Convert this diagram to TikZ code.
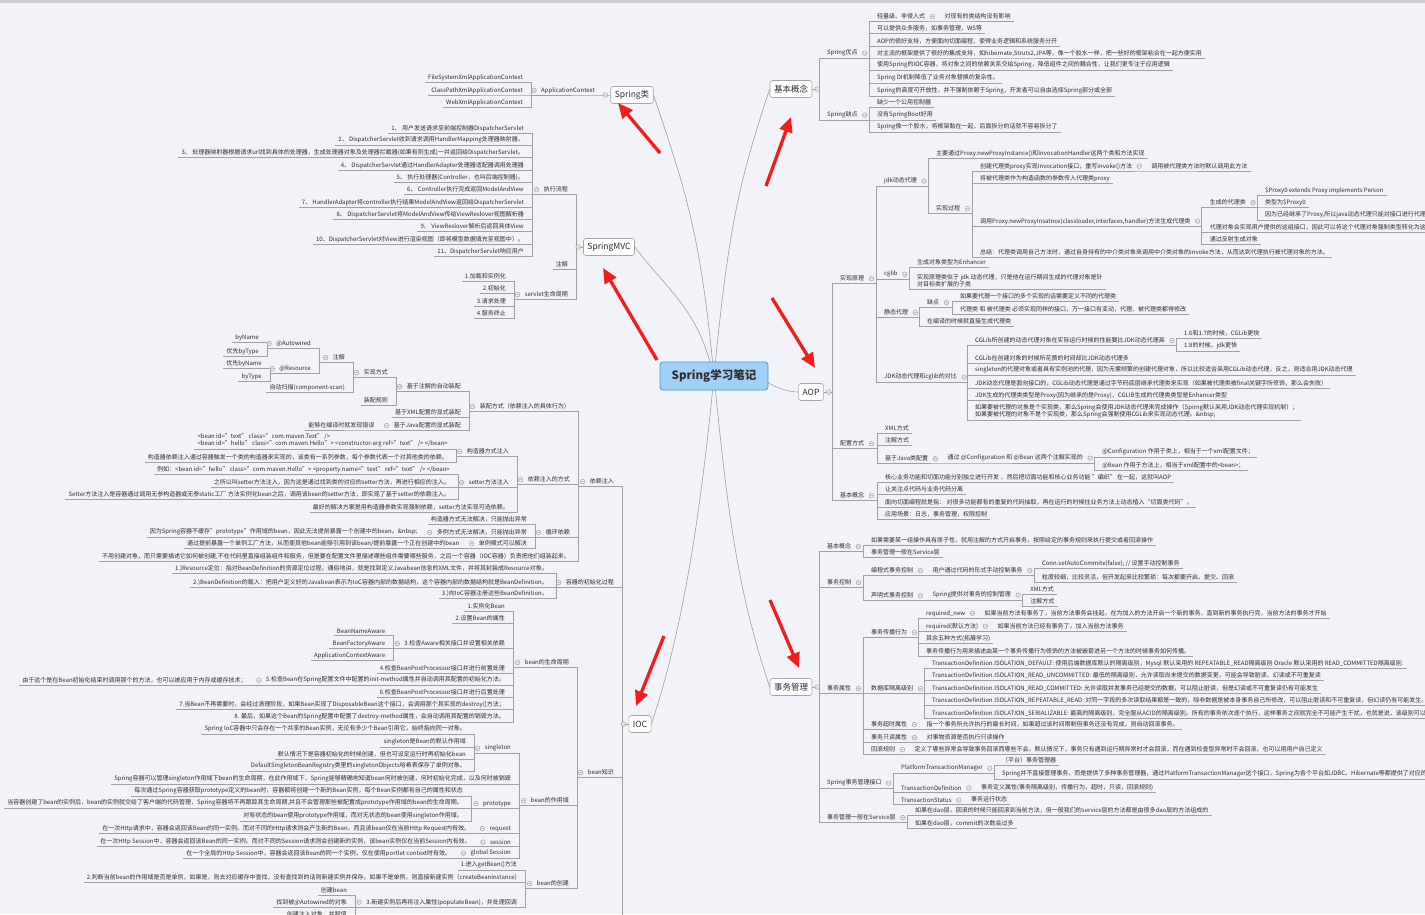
\documentclass[tikz,border=0pt]{standalone}
\usepackage{fontspec}
\setmainfont{Noto Sans CJK SC}
\usetikzlibrary{arrows.meta}
\pgfdeclarelayer{back}
\pgfsetlayers{back,main}
\definecolor{bgc}{RGB}{242,243,248}
\definecolor{topc}{RGB}{205,205,210}
\definecolor{lc}{RGB}{160,160,160}
\definecolor{tc}{RGB}{45,45,45}
\definecolor{bc}{RGB}{165,165,165}
\definecolor{rootf}{RGB}{160,208,245}
\definecolor{rootd}{RGB}{70,150,220}
\definecolor{arr}{RGB}{240,30,30}
\newcommand\fsz{\fontsize{6}{7.6}\selectfont}
\newcommand\fmd{\fontsize{8.5}{10}\selectfont}
\newcommand\frt{\fontsize{11.5}{13}\selectfont\bfseries}
\newcommand\cnR[2]{\draw[ln] (#1.south east) -| ([xshift=-5pt]#2.south west) -- (#2.south east);}
\newcommand\cnL[2]{\draw[ln] (#1.south west) -| ([xshift=5pt]#2.south east) -- (#2.south west);}
\newcommand\bxR[2]{\draw[ln] (#1.east) -| ([xshift=-5pt]#2.south west) -- (#2.south east);}
\newcommand\bxL[2]{\draw[ln] (#1.west) -| ([xshift=5pt]#2.south east) -- (#2.south west);}
\newcommand\ocR[1]{\draw[oc] ([xshift=4pt]#1.east) circle[radius=2.3pt] ++(-1.3pt,0pt) -- ++(2.6pt,0pt);}
\newcommand\ocL[1]{\draw[oc] ([xshift=-4pt]#1.west) circle[radius=2.3pt] ++(-1.3pt,0pt) -- ++(2.6pt,0pt);}
\newcommand\obR[1]{\draw[oc] ([xshift=5pt]#1.east) circle[radius=2.3pt] ++(-1.3pt,0pt) -- ++(2.6pt,0pt);}
\newcommand\obL[1]{\draw[oc] ([xshift=-5pt]#1.west) circle[radius=2.3pt] ++(-1.3pt,0pt) -- ++(2.6pt,0pt);}
\tikzset{
  nb/.style={font=\fsz, text=tc, inner xsep=3pt, inner ysep=1.4pt},
  R/.style={nb, anchor=south west, xshift=5pt},
  L/.style={nb, anchor=south east, xshift=-5pt},
  ln/.style={draw=lc, line width=0.6pt},
  oc/.style={draw=lc, fill=bgc, line width=0.5pt},
  topic/.style={draw=bc, fill=white, rounded corners=2.5pt, font=\fmd, text=tc, inner xsep=4pt, inner ysep=3pt, minimum height=17pt, line width=0.6pt},
  rootbox/.style={draw=rootd, fill=rootf, rounded corners=3pt, font=\frt, text=tc, minimum width=108pt, minimum height=28pt, line width=0.8pt},
  redarr/.style={draw=arr, line width=3.3pt, -{Triangle[length=15pt,width=13pt]}},
}
\begin{document}
\begin{tikzpicture}[x=1pt,y=-1pt]
\useasboundingbox (0,0) rectangle (1425,914);
\clip (0,0) rectangle (1425,914);

% ===== root and topics =====
\node[rootbox] (root) at (714,376) {Spring学习笔记};
\node[topic] (scls) at (632,95) {Spring类};
\node[topic] (mvc) at (609,247) {SpringMVC};
\node[topic] (ioc) at (640,724) {IOC};
\node[topic] (jbgn) at (791,89) {基本概念};
\node[topic] (aop) at (811,392) {AOP};
\node[topic] (swgl) at (791,687) {事务管理};

% ===== Spring类 =====
\node[L] (ac) at (603,95) {ApplicationContext};
\node[L] (fs) at (531,82) {FileSystemXmlApplicationContext};
\node[L] (cp) at (531,95) {ClassPathXmlApplicationContext};
\node[L] (wx) at (531,107) {WebXmlApplicationContext};

% ===== SpringMVC =====
\node[L] (zxlc) at (576,194) {执行流程};
\node[L] (zj1) at (576,269) {注解};
\node[L] (slc) at (576,299) {servlet生命周期};
\node[L] (m1) at (532,133) {1、 用户发送请求至前端控制器DispatcherServlet};
\node[L] (m2) at (532,145) {2、 DispatcherServlet收到请求调用HandlerMapping处理器映射器。};
\node[L] (m3) at (532,157) {3、 处理器映射器根据请求url找到具体的处理器，生成处理器对象及处理器拦截器(如果有则生成)一并返回给DispatcherServlet。};
\node[L] (m4) at (532,170) {4、 DispatcherServlet通过HandlerAdapter处理器适配器调用处理器};
\node[L] (m5) at (532,182) {5、 执行处理器(Controller，也叫后端控制器)。};
\node[L] (m6) at (532,194) {6、 Controller执行完成返回ModelAndView};
\node[L] (m7) at (532,207) {7、 HandlerAdapter将controller执行结果ModelAndView返回给DispatcherServlet};
\node[L] (m8) at (532,219) {8、 DispatcherServlet将ModelAndView传给ViewReslover视图解析器};
\node[L] (m9) at (532,231) {9、 ViewReslover解析后返回具体View};
\node[L] (m10) at (532,244) {10、DispatcherServlet对View进行渲染视图（即将模型数据填充至视图中）。};
\node[L] (m11) at (532,256) {11、DispatcherServlet响应用户};
\node[L] (s1) at (514,281) {1.加载和实例化};
\node[L] (s2) at (514,293) {2.初始化};
\node[L] (s3) at (514,306) {3.请求处理};
\node[L] (s4) at (514,318) {4.服务终止};

% ===== IOC =====
\node[L] (di) at (622,486) {依赖注入};
\node[L] (init) at (622,587) {容器的初始化过程};
\node[L] (bk) at (622,777) {bean知识};
\coordinate (iocend) at (622,916);
\node[L] (zpfs) at (578,411) {装配方式（依赖注入的具体行为）};
\node[L] (dfs) at (578,484) {依赖注入的方式};
\node[L] (xhyl) at (578,537) {循环依赖};
\node[L] (bycj) at (578,561) {不用创建对象，而只需要描述它如何被创建,不在代码里直接组装组件和服务，但是要在配置文件里描述哪些组件需要哪些服务，之后一个容器（IOC容器）负责把他们组装起来。};
\node[L] (jyzj) at (469,391) {基于注解的自动装配};
\node[L] (jxml) at (469,417) {基于XML配置的显式装配};
\node[L] (jjava) at (469,430) {基于Java配置的显式装配};
\node[L] (sxfs) at (396,377) {实现方式};
\node[L] (zpgz) at (396,405) {装配规则};
\node[L] (zj2) at (353,362) {注解};
\node[L] (zdsm) at (353,392) {自动扫描(component-scan)};
\node[L] (aw) at (319,348) {@Autowired};
\node[L] (rs) at (319,373) {@Resource};
\node[L] (bn1) at (267,342) {byName};
\node[L] (bt1) at (267,356) {优先byType};
\node[L] (bn2) at (270,368) {优先byName};
\node[L] (bt2) at (270,381) {byType};
\node[L] (bydc) at ([xshift=-8pt]jjava.south west) {能够在编译时就发现错误};
\node[L] (gzq) at (517,456) {构造器方式注入};
\node[L] (setter) at (517,487) {setter方法注入};
\node[L] (zhfa) at (517,512) {最好的解决方案是用构造器参数实现强制依赖，setter方法实现可选依赖。};
\node[L, align=left] (gz1) at (456,449) {<bean id="text" class="com.maven.Text" />\\<bean id="hello" class="com.maven.Hello"> <constructor-arg ref="text" /> </bean>};
\node[L] (gz2) at (456,462) {构造器依赖注入通过容器触发一个类的构造器来实现的，该类有一系列参数，每个参数代表一个对其他类的依赖。};
\node[L] (st1) at (458,474) {例如：<bean id="hello" class="com.maven.Hello"> <property name="text" ref="text" /> </bean>};
\node[L] (st2) at (458,487) {之所以叫setter方法注入，因为这是通过找到类的对应的setter方法，再进行相应的注入。};
\node[L] (st3) at (458,499) {Setter方法注入是容器通过调用无参构造器或无参static工厂 方法实例化bean之后，调用该bean的setter方法，即实现了基于setter的依赖注入。};
\node[L] (xh1) at (535,524) {构造器方式无法解决，只能抛出异常};
\node[L] (xh2) at (535,537) {多例方式无法解决，只能抛出异常};
\node[L] (xh3) at (535,548) {单例模式可以解决};
\node[L] (xh2a) at ([xshift=-8pt]xh2.south west) {因为Spring容器不缓存"prototype"作用域的bean，因此无法提前暴露一个创建中的bean。\&nbsp;};
\node[L] (xh3a) at ([xshift=-8pt]xh3.south west) {通过提前暴露一个单例工厂方法，从而使其他bean能够引用到该bean/提前暴露一个正在创建中的bean};
\node[L] (c1) at (556,573) {1.)Resource定位：指对BeanDefinition的资源定位过程。通俗地讲，就是找到定义Javabean信息的XML文件，并将其封装成Resource对象。};
\node[L] (c2) at (556,587) {2.)BeanDefinition的载入：把用户定义好的Javabean表示为IoC容器内部的数据结构，这个容器内部的数据结构就是BeanDefinition。};
\node[L] (c3) at (556,598) {3.)向IoC容器注册这些BeanDefinition。};
\node[L] (smzq) at (577,667) {bean的生命周期};
\node[L] (zyy) at (577,805) {bean的作用域};
\node[L] (cj) at (577,888) {bean的创建};
\node[L] (l1) at (513,611) {1.实例化Bean};
\node[L] (l2) at (513,623) {2.设置Bean的属性};
\node[L] (l3) at (513,648) {3.检查Aware相关接口并设置相关依赖};
\node[L] (l4) at (513,673) {4.检查BeanPostProcessor接口并进行前置处理};
\node[L] (l5) at (513,685) {5.检查Bean在Spring配置文件中配置的init-method属性并自动调用其配置的初始化方法。};
\node[L] (l6) at (513,697) {6.检查BeanPostProcessor接口并进行后置处理};
\node[L] (l7) at (513,709) {7.当Bean不再需要时，会经过清理阶段，如果Bean实现了DisposableBean这个接口，会调用那个其实现的destroy()方法；};
\node[L] (l8) at (513,722) {8. 最后，如果这个Bean的Spring配置中配置了destroy-method属性，会自动调用其配置的销毁方法。};
\node[L] (a1) at ([xshift=-8pt,yshift=13pt]l3.south west) {BeanNameAware};
\node[L] (a2) at ([xshift=-8pt]l3.south west) {BeanFactoryAware};
\node[L] (a3) at ([xshift=-8pt,yshift=-12pt]l3.south west) {ApplicationContextAware};
\node[L] (l5a) at ([xshift=-8pt]l5.south west) {由于这个是在Bean初始化结束时调用那个的方法，也可以被应用于内存或缓存技术；};
\node[L] (sg) at (519,753) {singleton};
\node[L] (z2) at (519,784) {Spring容器可以管理singleton作用域下bean的生命周期，在此作用域下，Spring能够精确地知道bean何时被创建，何时初始化完成，以及何时被销毁};
\node[L] (pt) at (519,808) {prototype};
\node[L] (rq) at (519,833) {request};
\node[L] (ss) at (519,846) {session};
\node[L] (gs) at (519,858) {global Session};
\node[L] (sg1) at (474,734) {Spring IoC容器中只会存在一个共享的Bean实例，无论有多少个Bean引用它，始终指向同一对象。};
\node[L] (sg2) at (474,747) {singleton是Bean的默认作用域};
\node[L] (sg3) at (474,759) {默认情况下是容器初始化的时候创建，但也可设定运行时再初始化bean};
\node[L] (sg4) at (474,771) {DefaultSingletonBeanRegistry类里的singletonObjects哈希表保存了单例对象。};
\node[L] (p1) at (471,796) {每次通过Spring容器获取prototype定义的bean时，容器都将创建一个新的Bean实例，每个Bean实例都有自己的属性和状态};
\node[L] (p2) at (471,808) {当容器创建了bean的实例后，bean的实例就交给了客户端的代码管理，Spring容器将不再跟踪其生命周期,并且不会管理那些被配置成prototype作用域的bean的生命周期。};
\node[L] (p3) at (471,821) {对有状态的bean使用prototype作用域，而对无状态的bean使用singleton作用域。};
\node[L] (rqa) at ([xshift=-8pt]rq.south west) {在一次Http请求中，容器会返回该Bean的同一实例。而对不同的Http请求则会产生新的Bean，而且该bean仅在当前Http Request内有效。};
\node[L] (ssa) at ([xshift=-8pt]ss.south west) {在一次Http Session中，容器会返回该Bean的同一实例。而对不同的Session请求则会创建新的实例，该bean实例仅在当前Session内有效。};
\node[L] (gsa) at ([xshift=-8pt]gs.south west) {在一个全局的Http Session中，容器会返回该Bean的同一个实例，仅在使用portlet context时有效。};
\node[L] (b1) at (525,870) {1.进入getBean()方法};
\node[L] (b2) at (525,882) {2.判断当前bean的作用域是否是单例，如果是，则去对应缓存中查找，没有查找到的话则新建实例并保存。如果不是单例，则直接新建实例（createBeanInstance)};
\node[L] (b3) at (525,907) {3.新建实例后再将注入属性(populateBean)，并处理回调};
\node[L] (b3a) at ([xshift=-8pt,yshift=12pt]b3.south west) {创建bean};
\node[L] (b3b) at ([xshift=-8pt]b3.south west) {找到被@Autowired的对象};
\node[L] (b3c) at ([xshift=-8pt,yshift=-12pt]b3.south west) {创建注入对象，并赋值};

% ===== 基本概念 =====
\node[R] (yd) at (819,58) {Spring优点};
\node[R] (qd) at (819,120) {Spring缺点};
\node[R] (y1) at (869,21) {轻量级、非侵入式};
\node[R] (y2) at (869,33) {可以提供众多服务，如事务管理，WS等};
\node[R] (y3) at (869,46) {AOP的很好支持，方便面向切面编程，使得业务逻辑和系统服务分开};
\node[R] (y4) at (869,58) {对主流的框架提供了很好的集成支持，如hibernate,Struts2,JPA等，像一个胶水一样，把一些好的框架粘合在一起方便实用};
\node[R] (y5) at (869,70) {使用Spring的IOC容器，将对象之间的依赖关系交给Spring，降低组件之间的耦合性，让我们更专注于应用逻辑};
\node[R] (y6) at (869,83) {Spring DI机制降低了业务对象替换的复杂性。};
\node[R] (y7) at (869,96) {Spring的高度可开放性，并不强制依赖于Spring，开发者可以自由选择Spring部分或全部};
\node[R] (y1a) at ([xshift=8pt]y1.south east) {对现有的类结构没有影响};
\node[R] (q1) at (869,107) {缺少一个公用控制器};
\node[R] (q2) at (869,120) {没有SpringBoot好用};
\node[R] (q3) at (869,132) {Spring像一个胶水，将框架黏在一起，后面拆分的话就不容易拆分了};

% ===== AOP =====
\node[R] (sxyl) at (832,283) {实现原理};
\node[R] (pzfs) at (832,448) {配置方式};
\node[R] (aopjb) at (832,500) {基本概念};
\node[R] (jdk) at (876,186) {jdk动态代理};
\node[R] (cglib) at (876,279) {cglib};
\node[R] (jtdl) at (876,317) {静态代理};
\node[R] (db) at (876,382) {JDK动态代理和cglib的对比};
\node[R] (jdk1) at (928,158) {主要通过Proxy.newProxyInstance()和InvocationHandler这两个类和方法实现};
\node[R] (sxgc) at (928,213) {实现过程};
\node[R] (g1) at (972,171) {创建代理类proxy实现Invocation接口，重写invoke()方法};
\node[R] (g2) at (972,183) {将被代理类作为构造函数的参数传入代理类proxy};
\node[R] (g3) at (972,226) {调用Proxy.newProxyInsatnce(classloader,interfaces,handler)方法生成代理类};
\node[R] (g4) at (972,257) {总结：代理类调用自己方法时，通过自身持有的中介类对象来调用中介类对象的invoke方法，从而达到代理执行被代理对象的方法。};
\node[R] (g1a) at ([xshift=8pt]g1.south east) {调用被代理类方法时默认调用此方法};
\node[R] (g3a) at ([xshift=8pt,yshift=19pt]g3.south east) {生成的代理类};
\node[R] (g3b) at ([xshift=8pt,yshift=-6pt]g3.south east) {代理对象会实现用户提供的这组接口，因此可以将这个代理对象强制类型转化为这组接口};
\node[R] (g3c) at ([xshift=8pt,yshift=-18pt]g3.south east) {通过反射生成对象};
\node[R] (pa1) at ([xshift=8pt,yshift=12pt]g3a.south east) {\$Proxy0 extends Proxy implements Person};
\node[R] (pa2) at ([xshift=8pt]g3a.south east) {类型为\$Proxy0};
\node[R] (pa3) at ([xshift=8pt,yshift=-13pt]g3a.south east) {因为已经继承了Proxy,所以java动态代理只能对接口进行代理};
\node[R] (cg1) at (909,267) {生成对象类型为Enhancer};
\node[R, align=left] (cg2) at (909,289) {实现原理类似于 jdk 动态代理，只是他在运行期间生成的代理对象是针\\对目标类扩展的子类};
\node[R] (qd2) at (919,307) {缺点};
\node[R] (jt2) at (919,326) {在编译的时候就直接生成代理类};
\node[R] (qd2a) at (952,301) {如果要代理一个接口的多个实现的话需要定义不同的代理类};
\node[R] (qd2b) at (952,314) {代理类 和 被代理类 必须实现同样的接口，万一接口有变动，代理、被代理类都得修改};
\node[R] (d1) at (967,345) {CGLib所创建的动态代理对象在实际运行时候的性能要比JDK动态代理高};
\node[R] (d2) at (967,363) {CGLib在创建对象的时候所花费的时间却比JDK动态代理多};
\node[R] (d3) at (967,375) {singleton的代理对象或者具有实例池的代理，因为无需频繁的创建代理对象，所以比较适合采用CGLib动态代理，反之，则适合用JDK动态代理};
\node[R] (d4) at (967,388) {JDK动态代理是面向接口的，CGLib动态代理是通过字节码底层继承代理类来实现（如果被代理类被final关键字所修饰，那么会失败）};
\node[R] (d5) at (967,400) {JDK生成的代理类类型是Proxy(因为继承的是Proxy)，CGLIB生成的代理类类型是Enhancer类型};
\node[R, align=left] (d6) at (967,420) {如果要被代理的对象是个实现类，那么Spring会使用JDK动态代理来完成操作（Spirng默认采用JDK动态代理实现机制）；\\如果要被代理的对象不是个实现类，那么Spring会强制使用CGLib来实现动态代理。\&nbsp;};
\node[R] (d1a) at ([xshift=8pt,yshift=7pt]d1.south east) {1.6和1.7的时候，CGLib更快};
\node[R] (d1b) at ([xshift=8pt,yshift=-6pt]d1.south east) {1.8的时候，jdk更快};
\node[R] (xml) at (877,433) {XML方式};
\node[R] (zjfs) at (877,445) {注解方式};
\node[R] (javapz) at (877,463) {基于Java类配置};
\node[R] (jp1) at ([xshift=8pt]javapz.south east) {通过 @Configuration 和 @Bean 这两个注解实现的};
\node[R] (jp1a) at ([xshift=8pt,yshift=6pt]jp1.south east) {@Configuration 作用于类上，相当于一个xml配置文件；};
\node[R] (jp1b) at ([xshift=8pt,yshift=-7pt]jp1.south east) {@Bean 作用于方法上，相当于xml配置中的<bean>；};
\node[R] (ab1) at (877,482) {核心业务功能和切面功能分别独立进行开发 ，然后把切面功能和核心业务功能 "编织" 在一起，这就叫AOP};
\node[R] (ab2) at (877,494) {让关注点代码与业务代码分离};
\node[R] (ab3) at (877,507) {面向切面编程就是指： 对很多功能都有的重复的代码抽取，再在运行的时候往业务方法上动态植入“切面类代码”。};
\node[R] (ab4) at (877,519) {应用场景：日志，事务管理，权限控制};

% ===== 事务管理 =====
\node[R] (tjb) at (819,551) {基本概念};
\node[R] (tkz) at (819,587) {事务控制};
\node[R] (tsx) at (819,693) {事务属性};
\node[R] (tjk) at (819,788) {Spring事务管理接口};
\node[R] (tsv) at (819,822) {事务管理一般在Service层};
\node[R] (tj1) at (863,545) {如果需要某一组操作具有原子性，就用注解的方式开启事务，按照给定的事务规则来执行提交或者回滚操作};
\node[R] (tj2) at (863,557) {事务管理一般在Service层};
\node[R] (bc) at (863,575) {编程式事务控制};
\node[R] (sm) at (863,600) {声明式事务控制};
\node[R] (bc1) at ([xshift=8pt]bc.south east) {用户通过代码的形式手动控制事务};
\node[R] (bc1a) at ([xshift=8pt,yshift=7pt]bc1.south east) {Conn.setAutoCommite(false); // 设置手动控制事务};
\node[R] (bc1b) at ([xshift=8pt,yshift=-7pt]bc1.south east) {粒度较细，比较灵活，但开发起来比较繁琐：每次都要开启、提交、回滚};
\node[R] (sm1) at ([xshift=8pt]sm.south east) {Spring提供对事务的控制管理};
\node[R] (sm1a) at ([xshift=8pt,yshift=6pt]sm1.south east) {XML方式};
\node[R] (sm1b) at ([xshift=8pt,yshift=-6pt]sm1.south east) {注解方式};
\node[R] (cb) at (863,637) {事务传播行为};
\node[R] (gl) at (863,693) {数据库隔离级别};
\node[R] (cs) at (863,729) {事务超时属性};
\node[R] (zd) at (863,742) {事务只读属性};
\node[R] (hg) at (863,754) {回滚规则};
\node[R] (cb1) at (918,618) {required\_new};
\node[R] (cb2) at (918,631) {required(默认方法)};
\node[R] (cb3) at (918,643) {其余五种方式(拓展学习)};
\node[R] (cb4) at (918,656) {事务传播行为用来描述由某一个事务传播行为修饰的方法被嵌套进另一个方法的时候事务如何传播。};
\node[R] (cb1a) at ([xshift=8pt]cb1.south east) {如果当前方法有事务了，当前方法事务会挂起，在为加入的方法开启一个新的事务，直到新的事务执行完，当前方法的事务才开始};
\node[R] (cb2a) at ([xshift=8pt]cb2.south east) {如果当前方法已经有事务了，加入当前方法事务};
\node[R] (gl1) at (924,668) {TransactionDefinition.ISOLATION\_DEFAULT: 使用后端数据库默认的隔离级别，Mysql 默认采用的 REPEATABLE\_READ隔离级别 Oracle 默认采用的 READ\_COMMITTED隔离级别.};
\node[R] (gl2) at (924,680) {TransactionDefinition.ISOLATION\_READ\_UNCOMMITTED: 最低的隔离级别，允许读取尚未提交的数据变更，可能会导致脏读、幻读或不可重复读};
\node[R] (gl3) at (924,693) {TransactionDefinition.ISOLATION\_READ\_COMMITTED: 允许读取并发事务已经提交的数据，可以阻止脏读，但是幻读或不可重复读仍有可能发生};
\node[R] (gl4) at (924,705) {TransactionDefinition.ISOLATION\_REPEATABLE\_READ: 对同一字段的多次读取结果都是一致的，除非数据是被本身事务自己所修改，可以阻止脏读和不可重复读，但幻读仍有可能发生。};
\node[R] (gl5) at (924,718) {TransactionDefinition.ISOLATION\_SERIALIZABLE: 最高的隔离级别，完全服从ACID的隔离级别。所有的事务依次逐个执行，这样事务之间就完全不可能产生干扰，也就是说，该级别可以防止脏读、不可重复读以及幻读。};
\node[R] (csa) at ([xshift=8pt]cs.south east) {指一个事务所允许执行的最长时间，如果超过该时间限制但事务还没有完成，则自动回滚事务。};
\node[R] (zda) at ([xshift=8pt]zd.south east) {对事物资源是否执行只读操作};
\node[R] (hga) at ([xshift=8pt]hg.south east) {定义了哪些异常会导致事务回滚而哪些不会。默认情况下，事务只有遇到运行期异常时才会回滚，而在遇到检查型异常时不会回滚。也可以用用户自己定义};
\node[R] (ptm) at (893,773) {PlatformTransactionManager};
\node[R] (tdf) at (893,792) {TransactionDefinition};
\node[R] (tst) at (893,804) {TransactionStatus};
\node[R] (ptm1) at ([xshift=8pt,yshift=8pt]ptm.south east) {（平台）事务管理器};
\node[R] (ptm2) at ([xshift=8pt,yshift=-6pt]ptm.south east) {Spring并不直接管理事务，而是提供了多种事务管理器，通过PlatformTransactionManager这个接口，Spring为各个平台如JDBC、Hibernate等都提供了对应的事务管理器};
\node[R] (tdf1) at ([xshift=8pt]tdf.south east) {事务定义属性(事务隔离级别，传播行为，超时，只读，回滚规则)};
\node[R] (tst1) at ([xshift=8pt]tst.south east) {事务运行状态};
\node[R] (sv1) at (907,815) {如果在dao层，回滚的时候只能回滚到当前方法，但一般我们的service层的方法都是由很多dao层的方法组成的};
\node[R] (sv2) at (907,828) {如果在dao层，commit的次数会过多};

% ===== connectors: left =====
\bxL{scls}{ac}
\cnL{ac}{fs}\cnL{ac}{cp}\cnL{ac}{wx}
\bxL{mvc}{zxlc}\bxL{mvc}{zj1}\bxL{mvc}{slc}
\foreach \i in {1,...,11}{\cnL{zxlc}{m\i}}
\foreach \i in {1,...,4}{\cnL{slc}{s\i}}
\bxL{ioc}{di}\bxL{ioc}{init}\bxL{ioc}{bk}
\draw[ln] (ioc.west) -| (iocend);
\cnL{di}{zpfs}\cnL{di}{dfs}\cnL{di}{xhyl}\cnL{di}{bycj}
\cnL{zpfs}{jyzj}\cnL{zpfs}{jxml}\cnL{zpfs}{jjava}
\cnL{jyzj}{sxfs}\cnL{jyzj}{zpgz}
\cnL{sxfs}{zj2}\cnL{sxfs}{zdsm}
\cnL{zj2}{aw}\cnL{zj2}{rs}
\cnL{aw}{bn1}\cnL{aw}{bt1}\cnL{rs}{bn2}\cnL{rs}{bt2}
\cnL{jjava}{bydc}
\cnL{dfs}{gzq}\cnL{dfs}{setter}\cnL{dfs}{zhfa}
\cnL{gzq}{gz1}\cnL{gzq}{gz2}
\cnL{setter}{st1}\cnL{setter}{st2}\cnL{setter}{st3}
\cnL{xhyl}{xh1}\cnL{xhyl}{xh2}\cnL{xhyl}{xh3}
\cnL{xh2}{xh2a}\cnL{xh3}{xh3a}
\cnL{init}{c1}\cnL{init}{c2}\cnL{init}{c3}
\cnL{bk}{smzq}\cnL{bk}{zyy}\cnL{bk}{cj}
\foreach \i in {1,...,8}{\cnL{smzq}{l\i}}
\cnL{l3}{a1}\cnL{l3}{a2}\cnL{l3}{a3}
\cnL{l5}{l5a}
\cnL{zyy}{sg}\cnL{zyy}{z2}\cnL{zyy}{pt}\cnL{zyy}{rq}\cnL{zyy}{ss}\cnL{zyy}{gs}
\foreach \i in {1,...,4}{\cnL{sg}{sg\i}}
\foreach \i in {1,2,3}{\cnL{pt}{p\i}}
\cnL{rq}{rqa}\cnL{ss}{ssa}\cnL{gs}{gsa}
\cnL{cj}{b1}\cnL{cj}{b2}\cnL{cj}{b3}
\cnL{b3}{b3a}\cnL{b3}{b3b}\cnL{b3}{b3c}

% ===== connectors: right =====
\bxR{jbgn}{yd}\bxR{jbgn}{qd}
\foreach \i in {1,...,7}{\cnR{yd}{y\i}}
\cnR{y1}{y1a}
\foreach \i in {1,2,3}{\cnR{qd}{q\i}}
\bxR{aop}{sxyl}\bxR{aop}{pzfs}\bxR{aop}{aopjb}
\cnR{sxyl}{jdk}\cnR{sxyl}{cglib}\cnR{sxyl}{jtdl}\cnR{sxyl}{db}
\cnR{jdk}{jdk1}\cnR{jdk}{sxgc}
\foreach \i in {1,...,4}{\cnR{sxgc}{g\i}}
\cnR{g1}{g1a}
\cnR{g3}{g3a}\cnR{g3}{g3b}\cnR{g3}{g3c}
\cnR{g3a}{pa1}\cnR{g3a}{pa2}\cnR{g3a}{pa3}
\cnR{cglib}{cg1}\cnR{cglib}{cg2}
\cnR{jtdl}{qd2}\cnR{jtdl}{jt2}
\cnR{qd2}{qd2a}\cnR{qd2}{qd2b}
\foreach \i in {1,...,6}{\cnR{db}{d\i}}
\cnR{d1}{d1a}\cnR{d1}{d1b}
\cnR{pzfs}{xml}\cnR{pzfs}{zjfs}\cnR{pzfs}{javapz}
\cnR{javapz}{jp1}\cnR{jp1}{jp1a}\cnR{jp1}{jp1b}
\foreach \i in {1,...,4}{\cnR{aopjb}{ab\i}}
\bxR{swgl}{tjb}\bxR{swgl}{tkz}\bxR{swgl}{tsx}\bxR{swgl}{tjk}\bxR{swgl}{tsv}
\cnR{tjb}{tj1}\cnR{tjb}{tj2}
\cnR{tkz}{bc}\cnR{tkz}{sm}
\cnR{bc}{bc1}\cnR{bc1}{bc1a}\cnR{bc1}{bc1b}
\cnR{sm}{sm1}\cnR{sm1}{sm1a}\cnR{sm1}{sm1b}
\cnR{tsx}{cb}\cnR{tsx}{gl}\cnR{tsx}{cs}\cnR{tsx}{zd}\cnR{tsx}{hg}
\foreach \i in {1,...,4}{\cnR{cb}{cb\i}}
\cnR{cb1}{cb1a}\cnR{cb2}{cb2a}
\foreach \i in {1,...,5}{\cnR{gl}{gl\i}}
\cnR{cs}{csa}\cnR{zd}{zda}\cnR{hg}{hga}
\cnR{tjk}{ptm}\cnR{tjk}{tdf}\cnR{tjk}{tst}
\cnR{ptm}{ptm1}\cnR{ptm}{ptm2}
\cnR{tdf}{tdf1}\cnR{tst}{tst1}
\cnR{tsv}{sv1}\cnR{tsv}{sv2}

% ===== collapse markers =====
\obL{scls}\ocL{ac}\obL{mvc}\ocL{zxlc}\ocL{slc}\obL{ioc}
\ocL{di}\ocL{zpfs}\ocL{jyzj}\ocL{sxfs}\ocL{zj2}\ocL{aw}\ocL{rs}\ocL{jjava}
\ocL{dfs}\ocL{gzq}\ocL{setter}\ocL{xhyl}\ocL{xh2}\ocL{xh3}\ocL{init}\ocL{bk}
\ocL{smzq}\ocL{l3}\ocL{l5}\ocL{zyy}\ocL{sg}\ocL{pt}\ocL{rq}\ocL{ss}\ocL{gs}\ocL{cj}\ocL{b3}
\obR{jbgn}\ocR{yd}\ocR{qd}\ocR{y1}\obR{aop}\ocR{sxyl}\ocR{jdk}\ocR{sxgc}\ocR{g1}\ocR{g3}
\ocR{g3a}\ocR{cglib}\ocR{jtdl}\ocR{qd2}\ocR{db}\ocR{d1}\ocR{pzfs}\ocR{javapz}\ocR{jp1}
\ocR{aopjb}\obR{swgl}\ocR{tjb}\ocR{tkz}\ocR{bc}\ocR{bc1}\ocR{sm}\ocR{sm1}\ocR{tsx}
\ocR{cb}\ocR{cb1}\ocR{cb2}\ocR{gl}\ocR{cs}\ocR{zd}\ocR{hg}\ocR{tjk}\ocR{ptm}\ocR{tdf}\ocR{tst}\ocR{tsv}

% ===== red arrows =====
\coordinate (ra1s) at (660,153); \coordinate (ra1e) at (618,103);
\coordinate (ra2s) at (657,360); \coordinate (ra2e) at (603,268);
\coordinate (ra3s) at (664,636); \coordinate (ra3e) at (636,706);
\coordinate (ra4s) at (766,186); \coordinate (ra4e) at (791,117);
\coordinate (ra5s) at (772,298); \coordinate (ra5e) at (815,368);
\coordinate (ra6s) at (770,600); \coordinate (ra6e) at (799,668);
\foreach \k in {1,...,6}{\draw[redarr] (ra\k s) -- (ra\k e);}

% ===== background and central curves =====
\begin{pgfonlayer}{back}
\fill[bgc] (0,0) rectangle (1425,914);
\fill[topc] (0,0) rectangle (1425,2.5);
\draw[ln] (root) .. controls +(-15,-150) and +(30,90) .. (scls.east);
\draw[ln] (root) .. controls +(-20,-70) and +(30,40) .. (mvc.east);
\draw[ln] (root) .. controls +(-15,150) and +(30,-90) .. (ioc.east);
\draw[ln] (root) .. controls +(15,-150) and +(-30,90) .. (jbgn.west);
\draw[ln] (root) .. controls +(40,0) and +(-20,0) .. (aop.west);
\draw[ln] (root) .. controls +(15,150) and +(-30,-90) .. (swgl.west);
\end{pgfonlayer}
\end{tikzpicture}
\end{document}
